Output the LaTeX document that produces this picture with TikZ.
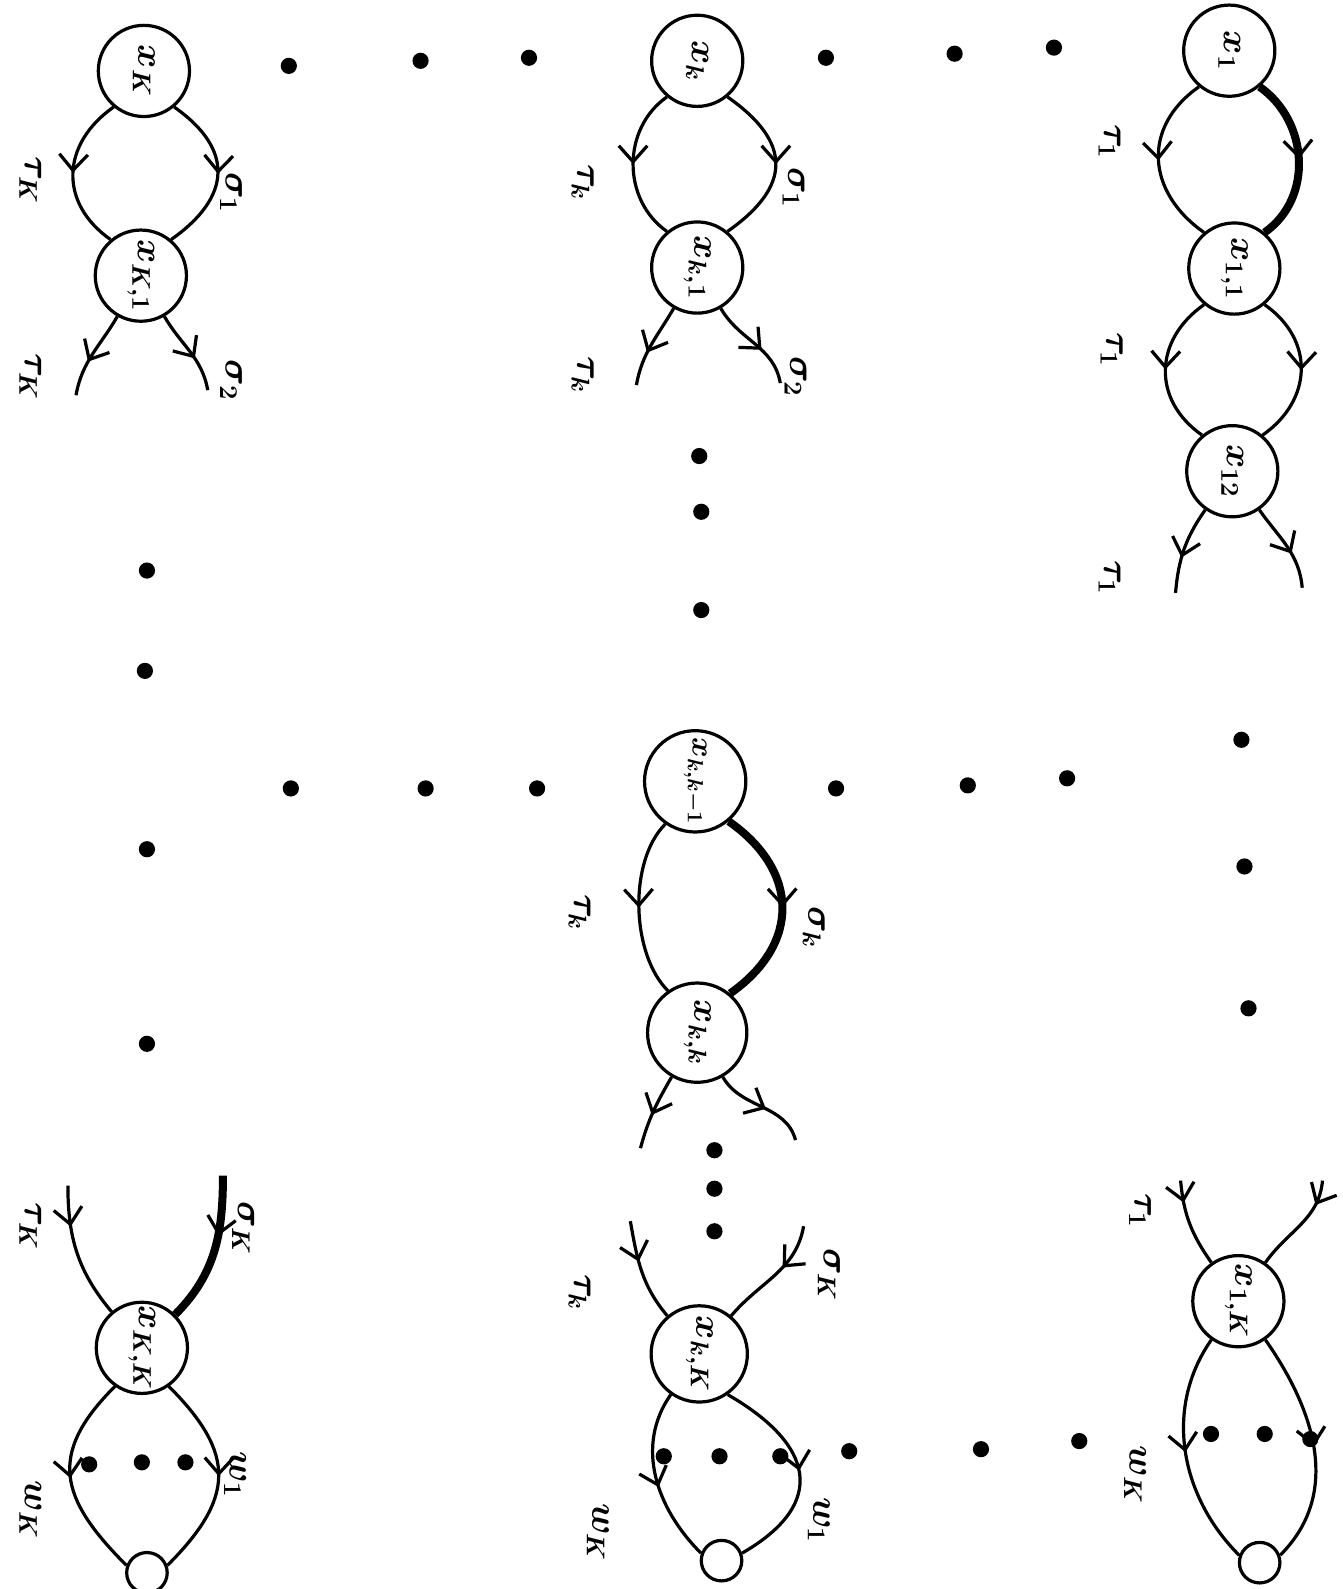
\documentclass[tikz,border=0pt]{standalone}
\usepackage{graphicx}
\usetikzlibrary{arrows.meta,decorations.markings}
\newcommand{\rt}[1]{\rotatebox{-90}{#1}}
\begin{document}
\begin{tikzpicture}[x=0.02cm,y=0.02cm,
  every node/.style={font=\fontsize{20.74}{25}\selectfont\boldmath},
  vtx/.style={circle,draw,line width=1.8pt,inner sep=0pt,minimum size=#1},
  vtx/.default=1.8cm,
  small/.style={circle,draw,line width=1.8pt,inner sep=0pt,minimum size=0.8cm},
  ln/.style={line width=1.8pt},
  thk/.style={line width=4.5pt},
  arr/.style={postaction={decorate},decoration={markings,mark=at position #1 with {\arrow[line width=1.8pt]{Straight Barb[length=9pt,width=16pt]}}}},
  arr/.default=0.5,
  dotn/.style={circle,fill,inner sep=0pt,minimum size=0.32cm},
  lab/.style={rotate=-90,inner sep=0pt}
]
\useasboundingbox (0,0) rectangle (1325,-1568);

% ---------- right column ----------
\node[vtx] (x1) at (1213,-50) {\rt{$x_1$}};
\node[vtx] (x11) at (1218,-265) {\rt{$x_{1,1}$}};
\node[vtx] (x12) at (1216,-465) {\rt{$x_{12}$}};
\draw[ln,arr] (x1.230) to[out=215,in=145,looseness=1.23] (x11.130);
\draw[thk,arr] (x1.-50) to[out=-35,in=35,looseness=1.05] (x11.50);
\draw[ln,arr] (x11.230) to[out=215,in=145,looseness=1.2] (x12.130);
\draw[ln,arr] (x11.-50) to[out=-35,in=35,looseness=1.2] (x12.50);
\coordinate (r1) at (1160,-585);
\coordinate (r2) at (1285,-580);
\draw[ln,arr=0.6] (x12.235) to[out=235,in=85] (r1);
\draw[ln,arr=0.6] (x12.-55) to[out=-55,in=95] (r2);
\node[lab] (lr1) at (1095,-140) {$\tau_1$};
\node[lab] (lr2) at (1097,-345) {$\tau_1$};
\node[lab] (lr3) at (1095,-570) {$\tau_1$};

\node[vtx] (x1K) at (1222,-1284) {\rt{$x_{1,K}$}};
\coordinate (r3) at (1165,-1165);
\coordinate (r4) at (1305,-1165);
\draw[ln,arr=0.25] (r3) to[out=-85,in=125] (x1K.125);
\draw[ln,arr=0.25] (r4) to[out=-95,in=55] (x1K.55);
\node[small] (sr) at (1243,-1542) {};
\draw[ln,arr=0.5] (x1K.235) to[out=235,in=135,looseness=0.98] (sr.160);
\draw[ln,arr=0.5] (x1K.-55) to[out=-55,in=45,looseness=1.03] (sr.20);
\node[lab] (lr4) at (1125,-1195) {$\tau_1$};
\node[lab] (lr5) at (1120,-1455) {$w_K$};

% ---------- middle column ----------
\node[vtx] (xk) at (688,-60) {\rt{$x_k$}};
\node[vtx] (xk1) at (688,-264) {\rt{$x_{k,1}$}};
\draw[ln,arr] (xk.230) to[out=215,in=145,looseness=1.05] (xk1.130);
\draw[ln,arr] (xk.-50) to[out=-35,in=35,looseness=1.5] (xk1.50);
\coordinate (m1) at (628,-380);
\coordinate (m2) at (770,-378);
\draw[ln,arr=0.6] (xk1.240) to[out=240,in=80] (m1);
\draw[ln,arr=0.6] (xk1.-60) to[out=-60,in=100] (m2);
\node[lab] (lm1) at (575,-180) {$\tau_k$};
\node[lab] (lm2) at (783,-185) {$\sigma_1$};
\node[lab] (lm3) at (575,-370) {$\tau_k$};
\node[lab] (lm4) at (785,-372) {$\sigma_2$};

\node[vtx=2cm] (xkk1) at (686,-771) {\rt{\scalebox{0.85}{$x_{k,k-1}$}}};
\node[vtx=1.96cm] (xkk) at (688,-1019) {\rt{$x_{k,k}$}};
\draw[ln,arr] (xkk1.235) to[out=225,in=135,looseness=0.8] (xkk.125);
\draw[thk,arr] (xkk1.-50) to[out=-35,in=35,looseness=1.28] (xkk.50);
\coordinate (m3) at (632,-1133);
\coordinate (m4) at (785,-1125);
\draw[ln,arr=0.55] (xkk.240) to[out=240,in=75] (m3);
\draw[ln,arr=0.55] (xkk.-60) to[out=-60,in=105] (m4);
\node[lab] (lm5) at (572,-900) {$\tau_k$};
\node[lab] (lm6) at (803,-915) {$\sigma_k$};

\node[vtx=1.9cm] (xkK) at (690,-1336) {\rt{$x_{k,K}$}};
\coordinate (m5) at (622,-1205);
\coordinate (m6) at (793,-1210);
\draw[ln,arr=0.4] (m5) to[out=-80,in=130] (xkK.130);
\draw[ln,arr=0.4] (m6) to[out=-100,in=50] (xkK.50);
\node[small] (sm) at (712,-1540) {};
\draw[ln,arr=0.55] (xkK.235) to[out=235,in=135,looseness=1] (sm.160);
\draw[ln,arr=0.5] (xkK.-55) to[out=-30,in=30,looseness=1.6] (sm.20);
\node[lab] (lm7) at (572,-1275) {$\tau_k$};
\node[lab] (lm8) at (818,-1258) {$\sigma_K$};
\node[lab] (lm9) at (590,-1512) {$w_K$};
\node[lab] (lm10) at (808,-1500) {$w_1$};

% ---------- left column ----------
\node[vtx] (xK) at (142,-70) {\rt{$x_K$}};
\node[vtx] (xK1) at (139,-272) {\rt{$x_{K,1}$}};
\draw[ln,arr] (xK.230) to[out=215,in=145,looseness=1.23] (xK1.130);
\draw[ln,arr] (xK.-50) to[out=-35,in=35,looseness=1.42] (xK1.50);
\coordinate (l1) at (75,-390);
\coordinate (l2) at (205,-385);
\draw[ln,arr=0.6] (xK1.240) to[out=240,in=80] (l1);
\draw[ln,arr=0.6] (xK1.-60) to[out=-60,in=100] (l2);
\node[lab] (ll1) at (30,-178) {$\tau_K$};
\node[lab] (ll2) at (228,-190) {$\sigma_1$};
\node[lab] (ll3) at (30,-372) {$\tau_K$};
\node[lab] (ll4) at (228,-375) {$\sigma_2$};

\node[vtx] (xKK) at (140,-1330) {\rt{$x_{K,K}$}};
\coordinate (l3) at (67,-1170);
\coordinate (l4) at (220,-1160);
\draw[ln,arr=0.3] (l3) to[out=-90,in=130] (xKK.130);
\draw[thk,arr=0.4] (l4) to[out=-90,in=45] (xKK.45);
\node[small] (sl) at (145,-1552) {};
\draw[ln,arr=0.5] (xKK.235) to[out=225,in=135,looseness=1.36] (sl.160);
\draw[ln,arr=0.5] (xKK.-55) to[out=-45,in=45,looseness=1.36] (sl.20);
\node[lab] (ll5) at (30,-1210) {$\tau_K$};
\node[lab] (ll6) at (240,-1212) {$\sigma_K$};
\node[lab] (ll7) at (30,-1490) {$w_K$};
\node[lab] (ll8) at (232,-1455) {$w_1$};

% ---------- dots ----------
\foreach \px/\py [count=\i] in {
  1225/730,1228/855,1232/995,
  690/450,692/505,692/602,
  705/1135,705/1173,705/1215,
  145/563,143/662,145/838,145/1030,
  285/65,415/60,522/57,815/57,942/53,1040/47,
  287/778,420/778,530/778,825/778,955/775,1053/768,
  838/1432,968/1430,1065/1422,
  1195/1415,1248/1415,1293/1420,
  655/1437,710/1437,770/1437,
  88/1445,140/1443,183/1443}
  \node[dotn] (dt\i) at (\px,-\py) {};
\end{tikzpicture}
\end{document}
